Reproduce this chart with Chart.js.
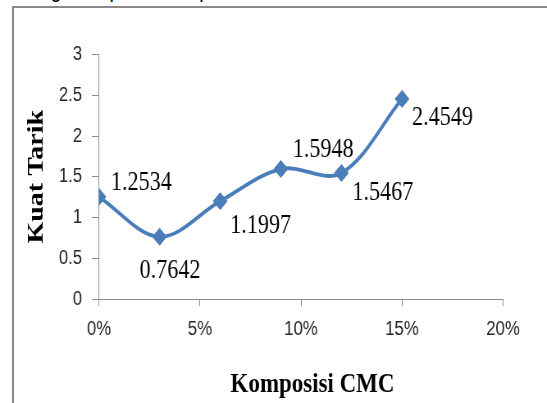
<!DOCTYPE html>
<html>
<head>
<meta charset="utf-8">
<script src="https://cdn.jsdelivr.net/npm/chart.js@4/dist/chart.umd.min.js"></script>
<style>
    html, body { margin: 0; padding: 0; background: #fff; overflow: hidden; width: 547px; height: 403px; }
    .frame { position: absolute; left: 12px; top: 6px; width: 700px; height: 500px;
             border-left: 2px solid #8a8a8a; border-top: 2px solid #8a8a8a; }
    .above { position: absolute; left: 22px; top: -25px; line-height: 24px; white-space: nowrap;
             font: 24px "Liberation Sans", sans-serif; color: #000;
             transform: scaleX(0.82); transform-origin: 0 0; }
    /* the whole figure in the reference is squeezed sideways */
    .squeeze { position: absolute; left: 0; top: 0; width: 667px; height: 403px;
               transform: scaleX(0.82); transform-origin: 0 0; }
</style>
</head>
<body>
<div class="above">rangka dapat dilihat pada Gambar 3.</div>
<div class="frame"></div>
<div class="squeeze"><canvas id="chart" width="667" height="403"></canvas></div>
<script>
// CMC composition (fraction) and measured tensile strength
const komposisi = [0, 0.03, 0.06, 0.09, 0.12, 0.15];
const kuatTarik = [1.2534, 0.7642, 1.1997, 1.5948, 1.5467, 2.4549];
const dataLabels = ['1.2534', '0.7642', '1.1997', '1.5948', '1.5467', '2.4549'];

const xTickLabels = ['0%', '5%', '10%', '15%', '20%'];
const yTickLabels = ['0', '0.5', '1', '1.5', '2', '2.5', '3'];

const blue = '#4a7ebb';
const axisGray = '#8c8c8c';

// Draws the value next to each point (where Excel put them)
const pointLabels = {
    id: 'pointLabels',
    afterDatasetsDraw(chart, args, opts) {
        const ctx = chart.ctx;
        const pts = chart.getDatasetMeta(0).data;
        ctx.save();
        ctx.font = '27px "Liberation Serif", "Times New Roman", serif';
        ctx.fillStyle = '#000';
        ctx.textAlign = 'left';
        ctx.textBaseline = 'alphabetic';
        pts.forEach((p, i) => {
            const o = opts.offsets[i];
            ctx.fillText(dataLabels[i], p.x + o[0], p.y + o[1]);
        });
        ctx.restore();
    }
};

new Chart(document.getElementById('chart'), {
    type: 'line',
    data: {
        datasets: [{
            label: 'Kuat Tarik',
            data: komposisi.map((x, i) => ({ x: x, y: kuatTarik[i] })),
            borderColor: blue,
            backgroundColor: blue,
            borderWidth: 3.8,
            tension: 0.35,
            pointStyle: 'rectRot',
            pointRadius: 8.5,
            pointBorderWidth: 1,
            pointBorderColor: blue,
            pointBackgroundColor: blue
        }]
    },
    options: {
        responsive: false,
        animation: false,
        devicePixelRatio: 1,
        layout: { padding: { left: 0, right: 53.6, top: 54.5, bottom: 0 } },
        plugins: {
            legend: { display: false },
            tooltip: { enabled: false },
            pointLabels: {
                offsets: [[14.6, -7], [-24.4, 41], [12.2, 32], [14.6, -12], [13.4, 27], [12.2, 26]]
            }
        },
        scales: {
            x: {
                type: 'linear',
                min: 0,
                max: 0.2,
                afterFit(scale) { scale.height = 104; },
                afterBuildTicks(scale) {
                    scale.ticks = xTickLabels.map((t, i) => ({ value: i * 0.05 }));
                },
                ticks: {
                    padding: 11,
                    color: '#262626',
                    font: { family: '"Liberation Sans", Arial, sans-serif', size: 20.5 },
                    callback: (v, i) => xTickLabels[i]
                },
                grid: { drawOnChartArea: false, tickLength: 7, color: axisGray },
                border: { color: axisGray, width: 1 },
                title: {
                    display: true,
                    // leading spaces nudge the title right, as in the original
                    text: '    Komposisi CMC',
                    color: '#000',
                    font: { family: '"Liberation Serif", "Times New Roman", serif', size: 28, weight: 'bold' },
                    padding: { top: 0, bottom: 1.2 }
                }
            },
            y: {
                min: 0,
                max: 3,
                afterFit(scale) { scale.width = 120.7; },
                afterBuildTicks(scale) {
                    scale.ticks = yTickLabels.map((t, i) => ({ value: i * 0.5 }));
                },
                ticks: {
                    padding: 12,
                    color: '#262626',
                    font: { family: '"Liberation Sans", Arial, sans-serif', size: 20.5 },
                    callback: (v, i) => yTickLabels[i]
                },
                grid: { drawOnChartArea: false, tickLength: 8.5, color: axisGray },
                border: { color: axisGray, width: 1 },
                title: {
                    display: true,
                    text: 'Kuat Tarik',
                    color: '#000',
                    font: { family: '"Liberation Serif", "Times New Roman", serif', size: 28, weight: 'bold' },
                    padding: { top: 27.5, bottom: 0 }
                }
            }
        }
    },
    plugins: [pointLabels]
});
</script>
</body>
</html>
